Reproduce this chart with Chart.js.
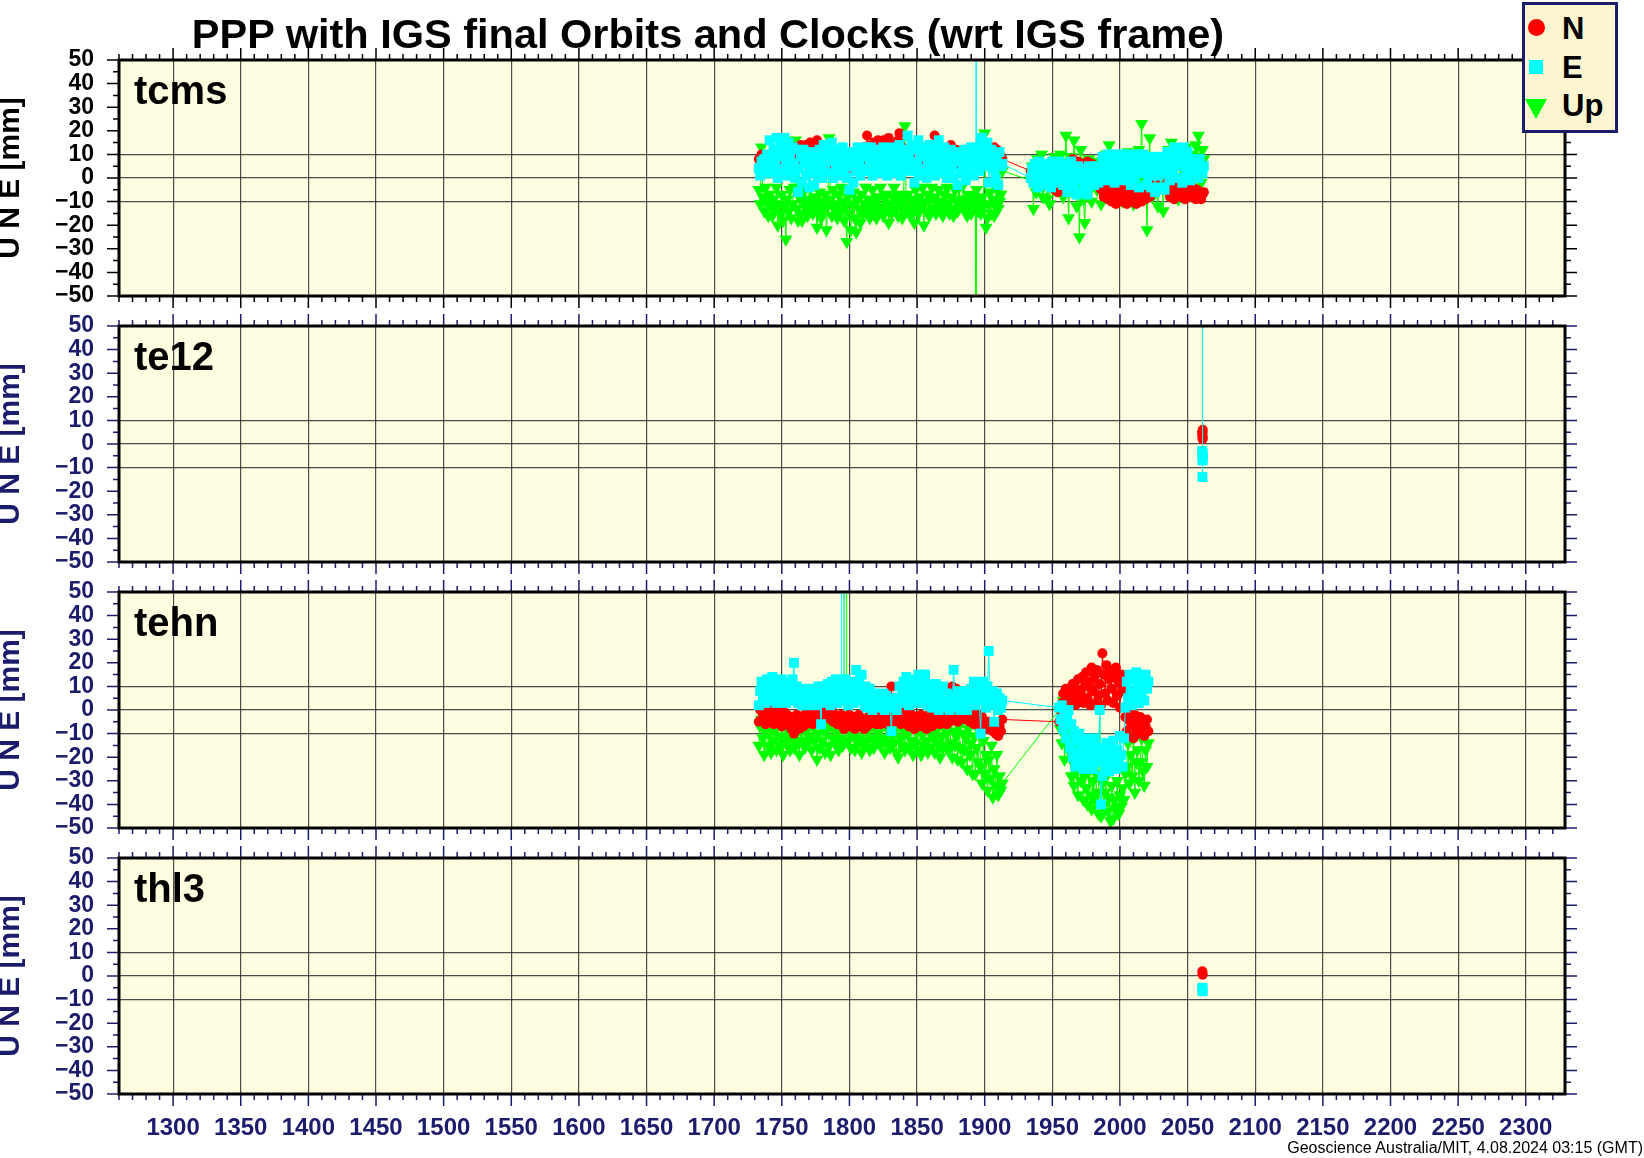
<!DOCTYPE html>
<html>
<head>
<meta charset="utf-8">
<title>PPP with IGS final Orbits and Clocks</title>
<script src="https://cdn.jsdelivr.net/npm/chart.js@4.4.1/dist/chart.umd.min.js"></script>
<style>
  html, body { margin: 0; padding: 0; background: #fff; }
  body { position: relative; width: 1644px; height: 1158px; overflow: hidden;
         font-family: "Liberation Sans", Arial, Helvetica, sans-serif; }
  canvas { position: absolute; left: 0; }
  .txt { position: absolute; white-space: nowrap; font-weight: bold; color: #000; }
  #title { left: 0; width: 1416px; top: 13px; text-align: center; font-size: 41.5px; line-height: 41px; }
  .site { left: 134px; font-size: 40px; line-height: 40px; }
  #legend { position: absolute; left: 1522px; top: 2px; width: 96px; height: 131px; box-sizing: border-box;
            border: 3px solid #1c1c6c; background: #fcf5d0; }
  #legend .sym, #legend .lab { position: absolute; }
  #legend .lab { left: 37px; font-size: 31px; line-height: 31px; font-weight: bold; color: #000; }
  #footer { position: absolute; right: 1px; top: 1140px; font-size: 16px; line-height: 16px; white-space: nowrap; color: #000; }
</style>
</head>
<body>
<canvas id="p0"></canvas>
<canvas id="p1"></canvas>
<canvas id="p2"></canvas>
<canvas id="p3"></canvas>

<div id="title" class="txt">PPP with IGS final Orbits and Clocks (wrt IGS frame)</div>
<div class="txt site" style="top:70px">tcms</div>
<div class="txt site" style="top:336px">te12</div>
<div class="txt site" style="top:602px">tehn</div>
<div class="txt site" style="top:868px">thl3</div>

<div id="legend">
  <span class="sym" style="left:2.5px;top:14px;width:17px;height:17px;border-radius:50%;background:#ff0000"></span>
  <span class="lab" style="top:8px">N</span>
  <span class="sym" style="left:4px;top:55px;width:14px;height:14px;background:#00ffff"></span>
  <span class="lab" style="top:47px">E</span>
  <span class="sym" style="left:-0.5px;top:94px;width:0;height:0;border-left:11.5px solid transparent;border-right:11.5px solid transparent;border-top:20px solid #00ff00"></span>
  <span class="lab" style="top:85px">Up</span>
</div>
<div id="footer">Geoscience Australia/MIT, 4.08.2024 03:15 (GMT)</div>

<script>
const xTicks = [1300, 1350, 1400, 1450, 1500, 1550, 1600, 1650, 1700, 1750, 1800,
                1850, 1900, 1950, 2000, 2050, 2100, 2150, 2200, 2250, 2300];
const yTicks = [-50, -40, -30, -20, -10, 0, 10, 20, 30, 40, 50];

// tcms: GPS week and N / E / Up offsets in mm
const tcmsWeeks = [
  1733,1734,1735,1736,1737,1738,1739,1740,1741,1742,
  1743,1744,1745,1746,1747,1748,1749,1750,1751,1752,
  1753,1754,1755,1756,1757,1758,1759,1760,1761,1762,
  1763,1764,1765,1766,1767,1768,1769,1770,1771,1772,
  1773,1774,1775,1776,1777,1778,1779,1780,1781,1782,
  1783,1784,1785,1786,1787,1788,1789,1790,1791,1792,
  1793,1794,1795,1796,1797,1798,1799,1800,1801,1802,
  1803,1804,1805,1806,1807,1808,1809,1810,1811,1812,
  1813,1814,1815,1816,1817,1818,1819,1820,1821,1822,
  1823,1824,1825,1826,1827,1828,1829,1830,1831,1832,
  1833,1834,1835,1836,1837,1838,1839,1840,1841,1842,
  1843,1844,1845,1846,1847,1848,1849,1850,1851,1852,
  1853,1854,1855,1856,1857,1858,1859,1860,1861,1862,
  1863,1864,1865,1866,1867,1868,1869,1870,1871,1872,
  1873,1874,1875,1876,1877,1878,1879,1880,1881,1882,
  1883,1884,1885,1886,1887,1888,1889,1890,1891,1892,
  1893,1893.5,1894,1895,1896,1897,1898,1899,1900,1901,1902,
  1903,1904,1905,1906,1907,1908,1909,1910,1911,1912,
  1913,
  1934,1935,1936,1937,1938,1939,1940,1941,1942,1943,
  1944,1945,1946,1947,1948,1949,1950,1951,1952,1953,
  1954,1955,1956,1957,1958,1959,1960,1961,1962,1963,
  1964,1965,1966,1967,1968,1969,1970,1971,1972,1973,
  1974,1975,1976,1977,1978,1979,1980,1981,1982,1983,
  1984,1985,1986,1987,1988,1989,1990,1991,1992,1993,
  1994,1995,1996,1997,1998,1999,2000,2001,2002,2003,
  2004,2005,2006,2007,2008,2009,2010,2011,2012,2013,
  2014,2015,2016,2017,2018,2019,2020,2021,2022,2023,
  2024,2025,2026,2027,2028,2029,2030,2031,2032,2033,
  2034,2035,2036,2037,2038,2039,2040,2041,2042,2043,
  2044,2045,2046,2047,2048,2049,2050,2051,2052,2053,
  2054,2055,2056,2057,2058,2059,2060,2061,2062];
const tcmsN = [
  8,4,10,6,9,3,7,5,2,8,
  6,9,5,8,4,10,7,3,9,6,
  11,8,5,12,7,10,6,13,9,12,
  8,14,6,11,9,14,7,12,15,10,
  13,8,11,16,9,12,7,10,5,12,
  8,14,6,11,9,4,8,6,10,3,
  7,5,9,2,8,6,4,9,3,7,
  10,5,8,11,6,9,12,8,13,10,
  18,12,9,14,11,15,9,13,16,11,
  14,10,16,12,9,15,17,11,13,10,
  14,12,9,16,19,8,13,10,6,11,
  7,10,5,9,8,4,10,6,3,8,
  5,9,4,7,11,6,10,8,5,12,
  18,12,9,14,8,13,10,12,7,9,
  12,6,14,9,11,8,12,5,10,7,
  11,6,12,8,10,5,12,7,9,6,
  9,10,8,13,11,16,10,15,12,8,14,
  7,12,9,11,13,8,12,7,10,9,
  8,
  3,1,2,0,3,-1,2,1,-2,2,
  0,-2,1,-3,2,-1,-3,0,-5,-4,
  -6,-2,-5,-3,1,3,0,4,2,5,
  1,8,3,6,2,7,4,1,6,3,
  5,2,7,4,1,6,3,0,5,2,
  4,-2,-5,-3,-8,-6,-4,-9,-7,-5,
  -10,-6,-8,-11,-5,-9,-7,-10,-4,-8,
  -6,-11,-8,-5,-10,-7,-9,-4,-11,-6,
  -8,-5,-10,-7,-4,-9,-6,-3,-8,-5,
  -2,-6,-1,-4,2,5,7,3,6,2,
  4,-2,-5,-8,-3,-6,-9,-4,-7,-2,
  -5,-8,-3,-6,-9,-4,-7,-2,-5,-8,
  -4,-7,-9,-5,-8,-6,-9,-7,-6];
const tcmsE = [
  4,1,7,3,8,2,10,5,16,8,
  2,12,6,17,0,9,14,4,11,17,
  7,1,15,10,3,13,6,0,12,-6,
  4,9,-2,12,6,1,10,-4,7,2,
  11,-3,5,9,1,12,6,0,14,4,
  9,2,13,7,15,0,10,4,12,6,
  1,9,13,4,7,0,11,-5,5,10,
  -2,8,3,13,6,1,11,4,9,13,
  3,10,6,13,1,8,12,4,9,2,
  11,6,13,3,9,1,12,7,4,13,
  8,2,11,5,14,1,9,12,4,7,
  18,10,3,14,7,-2,12,5,16,1,
  9,13,4,11,0,7,14,3,10,6,
  1,12,8,16,4,10,2,13,6,0,
  9,3,12,5,0,10,7,-3,11,2,
  8,4,12,-1,6,10,2,13,7,1,
  10,100,6,13,3,9,17,5,12,9,15,
  -2,8,12,4,10,0,7,-3,11,5,
  6,
  0,4,-2,6,1,-4,7,3,-1,5,
  2,-3,6,0,4,-4,7,1,-2,5,
  3,7,-1,2,-3,6,0,-6,4,-2,
  7,1,-5,3,-7,5,-1,2,-6,4,
  -3,1,-7,5,0,-2,3,-3,5,1,
  -2,4,0,9,3,6,-1,10,2,7,
  10,4,-2,8,1,6,10,3,-1,9,
  5,10,1,7,-3,9,4,0,10,6,
  -4,8,2,10,5,-3,7,1,9,-4,
  3,8,-6,5,1,9,-4,4,7,-5,
  2,11,6,-1,9,3,13,7,0,12,
  5,9,-2,13,7,2,11,4,-1,8,
  3,7,1,6,0,8,4,2,5];
const tcmsUp = [
  -5,-11,13,-8,-14,-4,-10,-16,-7,-12,
  -16,-9,-13,-4,-20,-11,-15,-7,-18,-12,
  -26,-9,-14,-5,-17,-11,-4,16,-13,-18,
  -8,-15,-18,-10,-5,-13,-16,-9,-4,-12,
  -15,-8,-11,-21,-14,-6,-17,-10,-13,-7,
  -22,-12,17,-9,-16,-5,-13,-11,-17,-7,
  -14,-4,-10,-18,-12,-27,-8,-15,-22,-11,
  -6,-17,-23,-9,-13,-19,-7,-15,-11,-4,
  -14,-9,-17,-12,-5,-15,-10,-17,-8,-13,
  -4,-12,-16,-9,-14,-7,-19,-11,-15,-8,
  -4,-13,-10,-16,-7,-12,-17,-9,22,-14,
  -7,-12,-16,-9,-13,-19,-5,-11,-15,-8,
  -12,-4,-20,-10,-14,-7,-16,-9,-4,-13,
  -8,-15,-11,-5,-14,-10,-16,-7,-12,-4,
  -11,-15,-8,-13,-16,-5,-10,-14,-4,-12,
  -9,-3,-13,-10,-16,-7,-12,-15,-8,-11,
  -9,-100,-5,-14,-10,-15,-8,-12,19,-21,-17,
  -11,-6,-15,-9,-16,-12,-5,-13,-10,-7,
  3,
  -1,5,-13,2,-6,8,-4,0,10,-8,
  -3,4,-9,1,-11,6,2,-5,9,-2,
  6,-4,10,3,-8,-1,18,5,-17,2,
  9,-6,16,4,-12,7,-25,12,-3,-9,
  -19,3,-7,8,1,-10,5,-2,7,-5,
  -4,6,-11,2,5,-7,10,3,14,-1,
  -6,4,3,-2,-9,6,8,1,-10,4,
  2,-5,11,7,-5,0,-11,9,6,-3,
  12,5,23,-1,-3,8,-22,3,17,-6,
  -8,6,4,-3,-12,2,9,5,-14,0,
  1,7,12,-4,15,3,-6,9,7,-9,
  -2,11,4,-3,8,13,-1,6,-7,10,
  5,-4,14,9,18,2,-2,12,8];

// te12
const te12Weeks = [2060.8, 2061, 2061.2, 2061.1, 2060.9, 2061, 2061.1];
const te12N = [5, 3, 6, 2, 4, 5, 3];
const te12E = [-3, -6, -5, -7, 300, -14, -4];
const te12Up = [null, null, null, null, null, null, null];

// tehn
const tehnWeeks = [
  1733,1734,1735,1736,1737,1738,1739,1740,1741,1742,
  1743,1744,1745,1746,1747,1748,1749,1750,1751,1752,
  1753,1754,1755,1756,1757,1758,1759,1760,1761,1762,
  1763,1764,1765,1766,1767,1768,1769,1770,1771,1772,
  1773,1774,1775,1776,1777,1778,1779,1780,1781,1782,
  1783,1784,1785,1786,1787,1788,1789,1790,1791,1792,
  1793,1794,1795,1796,1797,1798,1799,1800,1801,1802,
  1803,1804,1805,1806,1807,1808,1809,1810,1811,1812,
  1813,1814,1815,1816,1817,1818,1819,1820,1821,1822,
  1823,1824,1825,1826,1827,1828,1829,1830,1831,1832,
  1833,1834,1835,1836,1837,1838,1839,1840,1841,1842,
  1843,1844,1845,1846,1847,1848,1849,1850,1851,1852,
  1853,1854,1855,1856,1857,1858,1859,1860,1861,1862,
  1863,1864,1865,1866,1867,1868,1869,1870,1871,1872,
  1873,1874,1875,1876,1877,1878,1879,1880,1881,1882,
  1883,1884,1885,1886,1887,1888,1889,1890,1891,1892,
  1893,1894,1895,1896,1897,1898,1899,1900,1901,1902,
  1903,1904,1905,1906,1907,1908,1909,1910,1911,1912,
  1913,
  1955,1956,1957,1958,1959,1960,1961,1962,1963,1964,
  1965,1966,1967,1968,1969,1970,1971,1972,1973,1974,
  1975,1976,1977,1978,1979,1980,1981,1982,1983,1984,
  1985,1986,1987,1988,1989,1990,1991,1992,1993,1994,
  1995,1996,1997,1998,1999,2000,2001,2002,2003,2004,
  2005,2006,2007,2008,2009,2010,2011,2012,2013,2014,
  2015,2016,2017,2018,2019,2020,2021];
const tehnN = [
  -5,0,-4,-2,1,-6,-1,-5,0,-4,
  -2,-6,1,-4,-1,-5,0,-7,-3,-1,
  -4,-2,-6,-3,-8,-4,-10,-5,-2,-7,
  -8,-4,-3,-7,-2,-6,-3,-1,-5,-2,
  -6,-1,-4,0,-5,-2,-4,1,-3,0,
  -3,2,-1,-4,0,-5,-2,-3,-6,-4,
  -6,-2,-5,-8,-3,-7,-4,-2,-7,-3,
  -5,-8,-3,-6,-2,-7,-4,-6,-8,-5,
  -7,-3,-6,-2,-5,-1,-4,-6,-2,-5,
  -6,-3,-1,-5,-2,-6,-4,-1,10,0,
  -2,-5,-1,-4,-2,-6,-3,-1,-5,-2,
  -4,-7,-5,-2,-6,-8,-3,-6,-7,-4,
  -2,-7,-5,-3,-8,-6,-2,-5,-7,-3,
  -6,-2,-5,-3,-6,-2,-4,-1,-3,-6,
  -2,-5,-1,10,-4,-2,9,-5,-1,-3,
  -2,0,-1,-4,-2,0,-5,-1,-3,-6,
  -4,-6,-2,-5,-7,-3,-5,-8,-6,-7,
  -5,-8,-6,-9,-7,-10,-8,-11,-7,-9,
  -4,
  -5,0,3,7,2,9,5,1,8,4,
  11,6,2,9,13,4,7,14,3,10,
  16,5,12,2,18,8,14,3,17,6,
  11,2,24,15,7,19,4,13,17,9,
  3,14,18,6,12,1,15,8,11,-3,
  -9,-4,-11,0,-6,-12,-2,-8,-5,-10,
  -3,-9,-6,-11,-7,-4,-9];
const tehnE = [
  2,8,12,5,10,3,13,7,4,11,
  14,6,9,3,12,8,4,13,6,10,
  3,12,7,4,9,13,20,5,10,3,
  8,5,2,9,4,7,2,8,5,3,
  9,4,7,2,10,5,-6,8,3,10,
  4,11,7,2,12,5,9,13,3,8,
  11,4,900,9,13,6,2,10,5,12,
  3,9,17,6,12,4,15,8,2,10,
  1,6,9,3,0,7,4,2,6,1,
  5,3,7,0,6,2,4,1,-9,5,
  2,4,0,5,10,3,8,12,5,14,
  7,2,11,5,13,8,3,10,15,6,
  12,3,9,15,6,2,11,7,1,9,
  4,11,6,0,8,3,10,5,1,7,
  3,0,6,2,17,5,1,8,3,0,
  6,2,8,4,0,7,3,9,5,12,
  2,8,11,4,-10,9,12,5,1,10,
  25,6,2,8,-5,3,7,0,5,1,
  4,
  1,-4,2,-8,-1,-12,-3,0,-16,-6,
  -20,-9,-24,-13,-18,-10,-22,-15,-25,-12,
  -19,-23,-14,-21,-17,-25,-12,-20,-16,-22,
  0,-40,-28,-18,-24,-14,-21,-26,-17,-23,
  -13,-20,-25,-17,-22,-11,-19,-24,-12,1,
  12,5,15,8,2,13,6,16,10,3,
  14,7,11,4,15,9,12];
const tehnUp = [
  -15,-7,-4,-12,-19,-9,-5,-15,-10,-18,
  -6,-13,-8,-17,-4,-11,-15,-7,-19,-12,
  -5,-14,-9,-17,-6,-12,-16,-4,-10,-14,
  -19,-8,-13,-5,-16,-9,-14,-4,-11,-17,
  -7,-13,-5,-21,-10,-16,-6,-13,-8,-18,
  -9,-5,-15,-19,-7,-12,-4,-14,-9,-17,
  -6,-12,-15,-7,900,-5,-13,-9,-16,-4,
  -10,-17,-7,-14,-5,-12,-18,-8,-15,-4,
  -13,-8,-17,-5,-12,-16,-7,-14,-10,-4,
  -15,-7,-12,-18,-5,-14,-9,-16,-6,-11,
  -14,-8,-18,-20,-5,-12,-15,-8,-17,-4,
  -10,-16,-7,-13,-19,-5,-14,-9,-17,-6,
  -19,-10,-15,-5,-13,-18,-8,-16,-6,-12,
  -18,-9,-14,-5,-20,-11,-16,-7,-15,-10,
  -17,-6,-14,-20,-9,-15,-11,-21,-7,-16,
  -22,-10,-17,-12,-25,-8,-19,-14,-27,-11,
  -27,-16,-22,-9,-24,-31,-13,-27,-19,-34,
  -21,-29,-15,-37,-25,-32,-19,-36,-28,-34,
  -31,
  0,-8,-14,4,-21,-6,6,-12,-18,-28,
  -22,-32,-15,-26,-36,-20,-30,-24,-38,-28,
  -33,-40,-26,-36,-42,-30,-38,-27,-35,-44,
  3,-45,-31,-40,-35,-28,-43,-37,-47,-32,
  -46,-38,-42,-30,-44,-36,-41,-33,-38,-27,
  -24,-14,-31,-19,-28,-12,-35,-22,-17,-30,
  -22,-12,-26,-32,-17,-24,-14];

// thl3
const thl3Weeks = [2060.9, 2061.1, 2061];
const thl3N = [2, 0.5, 1];
const thl3E = [-5, -6.5, -5.5];
const thl3Up = [null, null, null];

const red = '#ff0000', cyan = '#00ffff', green = '#00ff00';
const navy = '#1c1c6c';
const gridColor = 'rgba(45,45,45,0.85)';
const plotBg = '#fefde0';
const panelTops = [60, 326, 592, 858];
const panelH = 236;

Chart.defaults.font.family = '"Liberation Sans", Arial, Helvetica, sans-serif';

function series(weeks, vals, color, style, radius, rotation, order) {
  return {
    data: weeks.map((w, i) => ({ x: w, y: vals[i] })),
    showLine: true,
    borderColor: color,
    borderWidth: 1,
    pointStyle: style,
    pointRadius: radius,
    pointRotation: rotation,
    pointBackgroundColor: color,
    pointBorderWidth: 0,
    order: order,
    clip: 0
  };
}

// cream background, black frame and outward ticks on all four sides
const framePlugin = {
  id: 'frame',
  beforeDraw(chart) {
    const a = chart.chartArea, c = chart.ctx;
    c.save();
    c.fillStyle = plotBg;
    c.fillRect(a.left, a.top, a.right - a.left, a.bottom - a.top);
    c.restore();
  },
  afterDraw(chart, args, opts) {
    const a = chart.chartArea, c = chart.ctx;
    const xs = chart.scales.x, ys = chart.scales.y;
    c.save();
    c.strokeStyle = opts.ink;
    c.lineWidth = 1.5;
    c.beginPath();
    for (let v = Math.ceil(xs.min / 10) * 10; v <= xs.max; v += 10) {
      const px = xs.getPixelForValue(v), len = v % 50 === 0 ? 12 : 6;
      c.moveTo(px, a.bottom); c.lineTo(px, a.bottom + len);
      c.moveTo(px, a.top); c.lineTo(px, a.top - len);
    }
    for (let v = -50; v <= 50; v += 5) {
      const py = ys.getPixelForValue(v), len = v % 10 === 0 ? 12 : 6;
      c.moveTo(a.left, py); c.lineTo(a.left - len, py);
      c.moveTo(a.right, py); c.lineTo(a.right + len, py);
    }
    c.stroke();
    c.strokeStyle = '#000';
    c.lineWidth = 3;
    c.strokeRect(a.left, a.top, a.right - a.left, a.bottom - a.top);
    c.restore();
  }
};

function drawPanel(idx, weeks, n, e, up) {
  const first = idx === 0, last = idx === 3;
  const ink = first ? '#000' : navy;
  const xh = last ? 60 : 18;
  const cv = document.getElementById('p' + idx);
  cv.width = 1644;
  cv.height = 20 + panelH + xh;
  cv.style.top = (panelTops[idx] - 20) + 'px';

  new Chart(cv, {
    type: 'scatter',
    data: {
      datasets: [
        series(weeks, n, red, 'circle', 5, 0, 1),
        series(weeks, e, cyan, 'rect', 7, 0, 0),
        series(weeks, up, green, 'triangle', 7.5, 180, 2)
      ]
    },
    options: {
      responsive: false,
      animation: false,
      events: [],
      devicePixelRatio: 1,
      layout: { padding: { top: 20, right: 79, bottom: 0, left: 0 } },
      plugins: {
        legend: { display: false },
        tooltip: { enabled: false },
        frame: { ink: ink }
      },
      scales: {
        x: {
          type: 'linear',
          position: 'bottom',
          min: 1260,
          max: 2329,
          afterBuildTicks: s => { s.ticks = xTicks.map(v => ({ value: v })); },
          afterFit: s => { s.height = xh; },
          grid: { color: gridColor, lineWidth: 1.2, drawTicks: false },
          border: { display: false },
          ticks: {
            display: last, autoSkip: false, maxRotation: 0, padding: 20, color: navy,
            font: { size: 24, weight: 'bold' },
            callback: v => String(v)
          }
        },
        y: {
          type: 'linear',
          position: 'left',
          min: -50,
          max: 50,
          afterBuildTicks: s => { s.ticks = yTicks.map(v => ({ value: v })); },
          afterFit: s => { s.width = 119; },
          grid: {
            color: c => (c.tick && [-10, 0, 10].includes(c.tick.value)) ? gridColor : 'rgba(0,0,0,0)',
            lineWidth: 1.2,
            drawTicks: true,
            tickLength: 25,
            tickColor: 'rgba(0,0,0,0)'
          },
          border: { display: false },
          ticks: {
            autoSkip: false, padding: 0, color: ink,
            font: { size: 23, weight: 'bold' },
            callback: v => v < 0 ? '\u2212' + (-v) : String(v)
          },
          title: {
            display: true, text: 'U N E [mm]', color: ink, padding: 0,
            font: { size: 30, weight: 'bold', lineHeight: 0.7 }
          }
        }
      }
    },
    plugins: [framePlugin]
  });
}

drawPanel(0, tcmsWeeks, tcmsN, tcmsE, tcmsUp);
drawPanel(1, te12Weeks, te12N, te12E, te12Up);
drawPanel(2, tehnWeeks, tehnN, tehnE, tehnUp);
drawPanel(3, thl3Weeks, thl3N, thl3E, thl3Up);
</script>
</body>
</html>
